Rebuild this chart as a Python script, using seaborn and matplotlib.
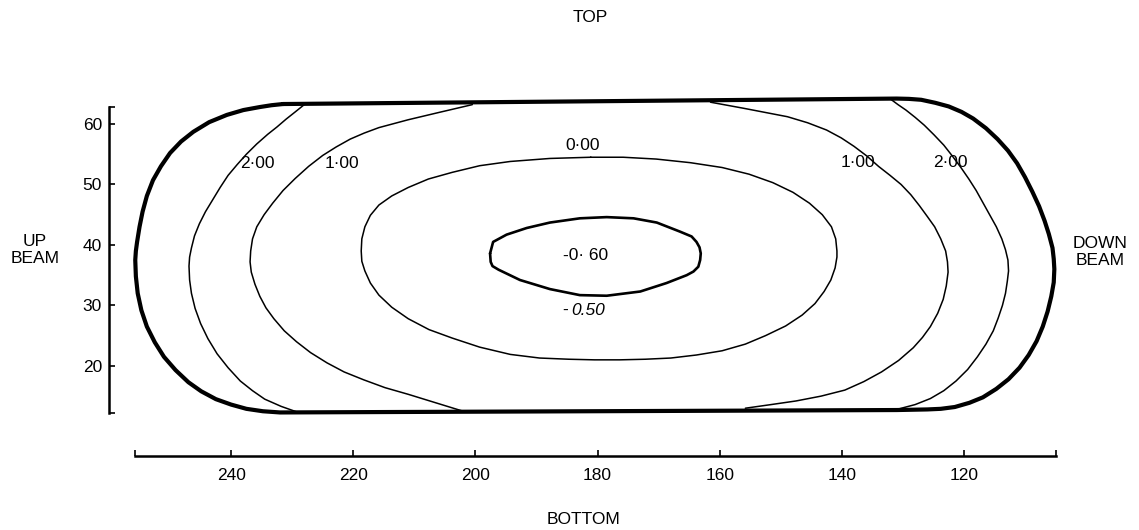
import matplotlib
matplotlib.use("Agg")
import matplotlib.pyplot as plt
import seaborn as sns

# ── values (x = position along beam, y = height) ────────────────────────────
X_TICKS = [240, 220, 200, 180, 160, 140, 120]
Y_TICKS = [20, 30, 40, 50, 60]
X_ENDS = [255.7, 105.0]
Y_ENDS = [12.2, 62.8]

# thick outline of the measured area: top edge, right end, bottom edge, left end
BOUND_X = [231.5, 131.0, 129.0, 127.0, 124.7, 122.5, 120.4, 118.5, 116.4, 114.5,
           112.8, 111.3, 110.0, 108.8, 107.7, 106.8, 106.1, 105.5, 105.3, 105.2,
           105.3, 105.7, 106.3, 107.1, 108.1, 109.4, 110.9, 112.7, 114.7, 116.9,
           119.1, 121.5, 123.8, 126.0, 128.5, 131.0,
           232.0, 234.8, 237.5, 240.0, 242.5, 244.9, 247.0, 249.1, 251.0, 252.5,
           253.8, 254.7, 255.3, 255.6, 255.7, 255.6, 255.4, 255.0, 254.5, 253.8,
           252.8, 251.5, 250.0, 248.2, 246.2, 243.6, 240.7, 238.0, 235.3, 233.4,
           231.5]
BOUND_Y = [63.3, 64.2, 64.15, 64.0, 63.5, 62.9, 62.0, 60.9, 59.3, 57.5,
           55.6, 53.5, 51.2, 48.8, 46.4, 44.0, 41.8, 39.5, 37.7, 36.0,
           33.8, 31.5, 29.0, 26.5, 24.1, 21.8, 19.7, 17.8, 16.2, 14.8,
           13.9, 13.2, 12.9, 12.8, 12.75, 12.7,
           12.3, 12.5, 12.9, 13.6, 14.5, 15.8, 17.3, 19.3, 21.5, 23.9,
           26.5, 29.2, 32.0, 34.8, 37.5, 39.0, 40.5, 43.0, 45.5, 48.1,
           50.7, 53.0, 55.2, 57.1, 58.7, 60.3, 61.5, 62.3, 62.8, 63.1,
           63.3]

# 2.00 contour, left and right branches
C2L_X = [227.9, 229.5, 231.0, 232.5, 234.0, 235.8, 237.5, 239.0, 240.5, 241.8,
         243.0, 244.2, 245.2, 246.0, 246.5, 246.8, 246.9, 246.8, 246.5, 245.9,
         245.0, 243.8, 242.3, 240.5, 238.5, 236.5, 234.5, 231.8, 229.0]
C2L_Y = [63.3, 62.0, 60.8, 59.5, 58.3, 56.7, 55.0, 53.3, 51.5, 49.5,
         47.5, 45.5, 43.5, 41.5, 39.5, 38.0, 36.5, 34.2, 32.0, 29.5,
         27.0, 24.5, 22.0, 19.7, 17.5, 15.9, 14.5, 13.3, 12.3]
C2R_X = [132.0, 130.8, 129.5, 128.0, 126.5, 124.9, 123.3, 121.9, 120.5, 119.2,
         118.0, 116.9, 115.8, 114.7, 113.8, 113.2, 112.8, 112.7, 112.9, 113.2,
         113.7, 114.4, 115.2, 116.4, 117.8, 119.4, 121.3, 123.3, 125.5, 128.0,
         131.0]
C2R_Y = [64.1, 63.2, 62.3, 61.1, 59.8, 58.2, 56.5, 54.7, 52.8, 50.9,
         49.0, 47.0, 45.0, 43.0, 41.0, 39.2, 37.5, 35.7, 34.0, 32.0,
         30.0, 27.9, 25.8, 23.6, 21.5, 19.4, 17.5, 15.9, 14.6, 13.6,
         12.8]

# 1.00 contour, left and right branches
C1L_X = [200.5, 206.0, 211.0, 215.8, 218.2, 220.5, 222.8, 225.0, 227.3, 229.5,
         231.5, 233.2, 234.6, 235.8, 236.5, 236.8, 236.9, 236.7, 236.1, 235.3,
         234.3, 233.0, 231.3, 229.3, 227.0, 224.3, 221.5, 218.3, 214.8, 211.0,
         206.5, 202.0]
C1L_Y = [63.2, 61.9, 60.7, 59.4, 58.5, 57.5, 56.2, 54.8, 53.0, 51.0,
         49.0, 46.9, 45.0, 43.0, 41.0, 39.0, 37.2, 35.5, 33.5, 31.5,
         29.6, 27.8, 25.8, 24.0, 22.2, 20.5, 19.0, 17.7, 16.4, 15.3,
         13.9, 12.5]
C1R_X = [161.5, 156.1, 152.5, 148.9, 145.6, 142.5, 140.1, 138.0, 135.9, 134.0,
         132.1, 130.3, 128.7, 127.3, 126.0, 124.8, 123.8, 123.0, 122.7, 122.6,
         122.9, 123.4, 124.3, 125.5, 126.8, 128.3, 130.7, 133.5, 136.4, 139.5,
         143.4, 147.5, 151.6, 155.8]
C1R_Y = [63.6, 62.6, 61.9, 61.2, 60.2, 59.0, 57.7, 56.3, 54.7, 53.0,
         51.5, 50.0, 48.3, 46.5, 44.7, 43.0, 41.0, 39.0, 37.2, 35.5,
         33.2, 31.0, 28.7, 26.5, 24.7, 23.0, 20.9, 19.0, 17.4, 16.0,
         15.0, 14.2, 13.6, 13.0]

# 0.00 contour (closed)
C0_X = [181.1, 187.8, 194.3, 199.3, 203.8, 207.7, 211.0, 213.7, 215.8, 217.2,
        218.1, 218.6, 218.7, 218.6, 218.1, 217.2, 215.8, 213.7, 211.0, 207.6,
        203.8, 199.3, 194.3, 189.5, 184.7, 180.5, 176.4, 172.2, 168.0, 163.8,
        159.6, 155.8, 152.5, 149.2, 146.5, 144.4, 142.9, 141.8, 141.1, 140.8,
        140.8, 141.0, 141.7, 143.2, 145.3, 148.0, 151.3, 155.2, 159.6, 164.8,
        170.4, 175.8, 181.1]
C0_Y = [54.5, 54.3, 53.8, 53.1, 52.0, 50.9, 49.5, 48.1, 46.6, 44.9,
        43.0, 41.0, 39.0, 37.3, 35.7, 33.7, 31.7, 29.7, 27.8, 26.0,
        24.6, 23.1, 21.9, 21.3, 21.1, 21.0, 21.0, 21.1, 21.3, 21.8,
        22.5, 23.6, 25.0, 26.6, 28.4, 30.3, 32.3, 34.2, 36.2, 38.0,
        39.0, 41.0, 43.0, 45.0, 46.9, 48.7, 50.3, 51.7, 52.8, 53.6,
        54.2, 54.5, 54.5]

# -0.60 contour (closed)
C06_X = [197.6, 197.1, 194.9, 191.6, 187.8, 182.9, 178.5, 174.1, 170.3, 166.5,
         164.6, 163.8, 163.3, 163.1, 163.2, 163.5, 164.3, 165.4, 168.7, 173.0,
         178.5, 182.9, 187.8, 192.7, 196.2, 197.2, 197.5, 197.6]
C06_Y = [38.6, 40.5, 41.7, 42.8, 43.7, 44.4, 44.6, 44.4, 43.7, 42.2,
         41.4, 40.5, 39.6, 38.6, 37.5, 36.4, 35.6, 35.0, 33.7, 32.3,
         31.6, 31.7, 32.7, 34.2, 35.9, 36.5, 37.2, 38.6]

# contour labels: text, x, y
LABELS = [("2·00", 235.7, 53.4), ("1·00", 221.8, 53.4), ("0·00", 182.5, 56.5),
          ("1·00", 137.3, 53.7), ("2·00", 122.3, 53.6), ("-0· 60", 182.0, 38.2)]

# ── figure ───────────────────────────────────────────────────────────────────
sns.set_style("white")
plt.rcParams["font.family"] = ["Liberation Sans", "DejaVu Sans"]
plt.rcParams["text.color"] = "black"
FS = 12.5

fig = plt.figure(figsize=(11.39, 5.30), dpi=100)
ax = fig.add_axes([109 / 1139, 74 / 530, 977.1 / 1139, 392.5 / 530])

paths = [
    (BOUND_X, BOUND_Y, 3.0),
    (C2L_X, C2L_Y, 1.1),
    (C2R_X, C2R_Y, 1.1),
    (C1L_X, C1L_Y, 1.1),
    (C1R_X, C1R_Y, 1.1),
    (C0_X, C0_Y, 1.1),
    (C06_X, C06_Y, 1.9),
]
for xs, ys, lw in paths:
    sns.lineplot(x=xs, y=ys, sort=False, estimator=None, color="black",
                 linewidth=lw, ax=ax, legend=False,
                 solid_joinstyle="round", solid_capstyle="round")

for txt, x, y in LABELS:
    ax.text(x, y, txt, ha="center", va="center", fontsize=FS, color="black")
ax.text(185.3, 29.1, "-", ha="center", va="center", fontsize=FS, color="black")
ax.text(181.5, 29.1, "0.50", ha="center", va="center", fontsize=FS,
        style="italic", color="black")

ax.set_xlim(260, 100)
ax.set_ylim(5.1, 70)
ax.set_xlabel("")
ax.set_ylabel("")

ax.set_xticks(X_TICKS)
ax.set_xticks(X_ENDS, minor=True)
ax.set_yticks(Y_TICKS)
ax.set_yticks(Y_ENDS, minor=True)
ax.tick_params(which="both", bottom=True, left=True, top=False, right=False,
               direction="in", length=4.5, width=1.2,
               color="black", labelcolor="black", labelsize=FS)
ax.tick_params(axis="x", pad=9)
ax.tick_params(axis="y", pad=5)

for side in ("top", "right"):
    ax.spines[side].set_visible(False)
for side in ("left", "bottom"):
    ax.spines[side].set_linewidth(1.8)
    ax.spines[side].set_color("black")
ax.spines["left"].set_bounds(Y_ENDS[0], Y_ENDS[1])
ax.spines["bottom"].set_bounds(X_ENDS[1], X_ENDS[0])

fig.text(590 / 1139, 1 - 17.5 / 530, "TOP", ha="center", va="center", fontsize=FS)
fig.text(583 / 1139, 1 - 519 / 530, "BOTTOM", ha="center", va="center", fontsize=FS)
fig.text(35 / 1139, 1 - 250 / 530, "UP\nBEAM", ha="center", va="center",
         fontsize=FS, multialignment="center")
fig.text(1100 / 1139, 1 - 252 / 530, "DOWN\nBEAM", ha="center", va="center",
         fontsize=FS, multialignment="center")

fig.savefig("out.png", dpi=100)
plt.close(fig)
